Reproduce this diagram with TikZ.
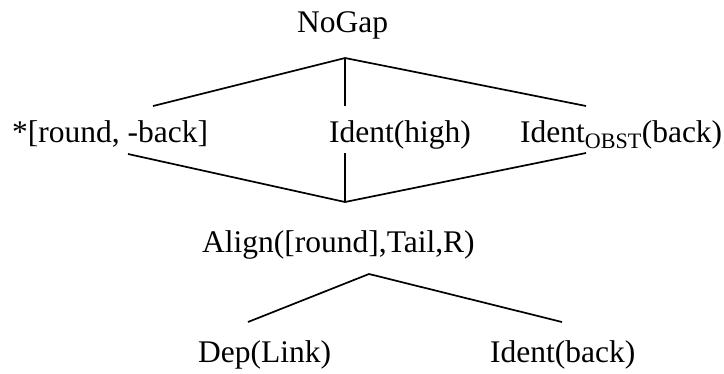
\documentclass[tikz,border=0pt]{standalone}
\usepackage{fontspec}
\setmainfont{Liberation Serif}
\usetikzlibrary{positioning}

\begin{document}
\begin{tikzpicture}[x=1pt, y=-1pt,
		con/.style={font=\fontsize{31.5}{36}\selectfont, inner sep=0pt, anchor=base west},
		link/.style={line width=1.7pt}]
		\useasboundingbox (0,0) rectangle (724,373);

		% constraints, top to bottom
		\node[con] (nogap) at (297,32) {NoGap};
		\node[con] (round) at (12,142) {*[round, -back]};
		\node[con] (high) at (329,142) {Ident(high)};
		\node[con] (obst) at (520,142) {Ident\textsubscript{OBST}(back)};
		\node[con] (align) at (202,252) {Align([round],Tail,R)};
		\node[con] (dep) at (198,362) {Dep(Link)};
		\node[con] (back) at (490,362) {Ident(back)};

		% meeting points of the lines
		\coordinate (nogap-b) at (345,58);
		\coordinate (round-t) at (153,106);
		\coordinate (high-t) at (345,106);
		\coordinate (obst-t) at (586,106);
		\coordinate (round-b) at (128,154);
		\coordinate (high-b) at (345,153);
		\coordinate (obst-b) at (586,153);
		\coordinate (align-t) at (345,202);
		\coordinate (align-b) at (369,274);
		\coordinate (dep-t) at (248,322);
		\coordinate (back-t) at (562,322);

		\draw[link] (round-t) -- (nogap-b) -- (obst-t);
		\draw[link] (nogap-b) -- (high-t);
		\draw[link] (round-b) -- (align-t) -- (obst-b);
		\draw[link] (high-b) -- (align-t);
		\draw[link] (dep-t) -- (align-b) -- (back-t);
	\end{tikzpicture}
\end{document}
